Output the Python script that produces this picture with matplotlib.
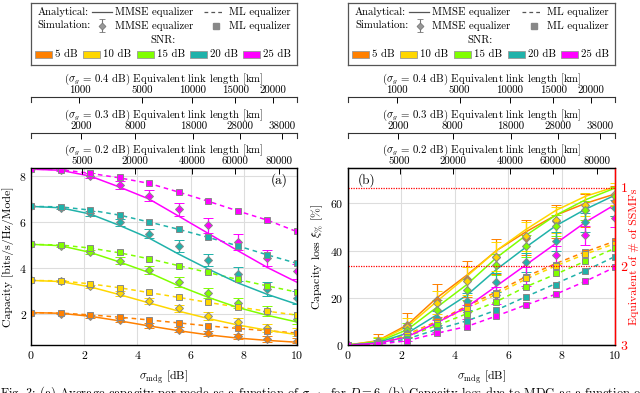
import matplotlib.pyplot as plt
import numpy as np

plt.rcParams['font.family'] = 'serif'
plt.rcParams['font.serif'] = ['cmr10']
plt.rcParams['mathtext.fontset'] = 'cm'
plt.rcParams['axes.formatter.use_mathtext'] = True
plt.rcParams['font.size'] = 7.8
plt.rcParams['axes.unicode_minus'] = False

# sigma_mdg sample points [dB]
sigma = [0, 1.11, 2.22, 3.33, 4.44, 5.56, 6.67, 7.78, 8.89, 10]
snr_labels = ['5 dB', '10 dB', '15 dB', '20 dB', '25 dB']
colors = ['#ff8000', '#ffd700', '#80ff00', '#20b2aa', '#ff00ff']

# ---- panel (a): capacity [bits/s/Hz/Mode] ----
cap_mmse = [
    [2.06, 2.03, 1.90, 1.70, 1.48, 1.27, 1.09, 0.95, 0.85, 0.77],
    [3.46, 3.41, 3.18, 2.84, 2.48, 2.12, 1.80, 1.52, 1.29, 1.10],
    [5.03, 4.97, 4.68, 4.26, 3.80, 3.22, 2.72, 2.28, 1.94, 1.65],
    [6.68, 6.62, 6.35, 5.85, 5.30, 4.60, 3.95, 3.35, 2.85, 2.42],
    [8.30, 8.25, 8.00, 7.52, 7.00, 6.25, 5.50, 4.75, 4.02, 3.38],
]
cap_ml = [
    [2.06, 2.04, 1.96, 1.86, 1.74, 1.61, 1.48, 1.37, 1.27, 1.17],
    [3.46, 3.44, 3.31, 3.14, 2.93, 2.72, 2.50, 2.30, 2.12, 1.95],
    [5.03, 5.00, 4.87, 4.66, 4.40, 4.10, 3.80, 3.50, 3.22, 2.95],
    [6.68, 6.66, 6.52, 6.30, 6.00, 5.68, 5.33, 4.96, 4.57, 4.20],
    [8.30, 8.28, 8.12, 7.92, 7.68, 7.30, 6.90, 6.48, 6.08, 5.58],
]
sim_mmse = [
    [2.06, 2.02, 1.90, 1.72, 1.50, 1.32, 1.16, 1.02, 0.92, 0.83],
    [3.46, 3.42, 3.20, 2.90, 2.57, 2.24, 1.92, 1.65, 1.40, 1.22],
    [5.03, 4.97, 4.70, 4.32, 3.92, 3.38, 2.92, 2.48, 2.12, 1.80],
    [6.68, 6.62, 6.38, 5.98, 5.50, 4.95, 4.35, 3.75, 3.10, 2.70],
    [8.30, 8.25, 8.02, 7.62, 7.15, 6.55, 5.85, 5.13, 4.45, 3.85],
]
err_mmse = [
    [0, 0.04, 0.07, 0.09, 0.11, 0.12, 0.12, 0.12, 0.12, 0.11],
    [0, 0.05, 0.08, 0.12, 0.14, 0.16, 0.17, 0.17, 0.17, 0.16],
    [0, 0.05, 0.10, 0.14, 0.18, 0.21, 0.23, 0.23, 0.23, 0.22],
    [0, 0.05, 0.11, 0.16, 0.21, 0.25, 0.28, 0.30, 0.30, 0.28],
    [0, 0.05, 0.11, 0.17, 0.23, 0.28, 0.32, 0.34, 0.35, 0.34],
]
sim_ml = [
    [2.06, 2.04, 1.97, 1.86, 1.75, 1.62, 1.48, 1.40, 1.28, 1.18],
    [3.46, 3.44, 3.31, 3.15, 2.96, 2.74, 2.52, 2.30, 2.12, 1.94],
    [5.03, 5.00, 4.87, 4.69, 4.40, 4.10, 3.82, 3.50, 3.22, 2.95],
    [6.68, 6.66, 6.52, 6.30, 6.00, 5.68, 5.33, 4.96, 4.55, 4.20],
    [8.30, 8.28, 8.12, 7.96, 7.68, 7.32, 6.90, 6.48, 6.08, 5.60],
]

# ---- panel (b): capacity loss [%] ----
loss_mmse = [
    [0, 1.8, 8.5, 20.0, 29.5, 40.0, 48.0, 55.0, 60.0, 64.0],
    [0, 1.6, 7.8, 18.5, 29.0, 40.0, 49.0, 57.0, 63.0, 67.0],
    [0, 1.3, 6.5, 16.0, 25.5, 37.0, 46.5, 55.0, 61.5, 66.5],
    [0, 1.0, 5.0, 12.8, 21.0, 32.0, 41.5, 50.5, 57.5, 63.5],
    [0, 0.7, 3.5, 9.5, 16.0, 25.0, 34.0, 43.0, 52.0, 59.5],
]
loss_ml = [
    [0, 0.8, 4.5, 10.0, 16.5, 22.5, 29.0, 34.5, 39.5, 44.0],
    [0, 0.8, 4.3, 9.5, 15.5, 21.5, 28.0, 33.5, 38.5, 43.0],
    [0, 0.6, 3.6, 8.3, 13.2, 18.4, 24.7, 30.0, 35.5, 41.0],
    [0, 0.4, 2.6, 6.6, 10.2, 14.8, 20.5, 26.0, 31.5, 37.5],
    [0, 0.3, 1.8, 5.0, 7.8, 12.3, 17.0, 21.5, 27.0, 33.0],
]
loss_sim = [
    [0, 1.8, 8.5, 19.0, 28.0, 37.5, 45.5, 52.5, 57.0, 61.0],
    [0, 1.6, 7.5, 18.0, 27.0, 37.5, 46.0, 53.0, 59.5, 64.0],
    [0, 1.3, 6.3, 15.0, 23.5, 34.0, 42.0, 50.5, 57.0, 63.0],
    [0, 1.0, 5.0, 11.5, 18.5, 26.5, 35.0, 44.0, 52.0, 58.0],
    [0, 0.6, 3.3, 8.2, 14.0, 21.0, 29.0, 38.0, 46.5, 54.0],
]
loss_err = [
    [0, 3.0, 5.0, 7.0, 7.5, 7.5, 7.5, 7.0, 7.0, 6.5],
    [0, 2.0, 4.0, 5.0, 6.0, 6.0, 6.0, 5.5, 5.0, 4.5],
    [0, 1.5, 3.0, 4.0, 4.5, 4.5, 4.5, 4.5, 4.0, 4.0],
    [0, 1.0, 2.0, 3.0, 3.5, 4.0, 4.0, 4.0, 4.0, 3.5],
    [0, 0.8, 1.5, 2.5, 3.0, 3.5, 4.0, 4.0, 4.0, 4.0],
]
loss_sim_ml = [
    [0, 0.9, 4.6, 10.2, 16.5, 22.0, 29.0, 34.0, 39.5, 44.0],
    [0, 0.8, 4.2, 9.4, 15.3, 21.6, 28.2, 33.5, 38.5, 43.0],
    [0, 0.6, 3.5, 8.4, 13.3, 18.3, 24.5, 30.5, 35.5, 41.0],
    [0, 0.4, 2.6, 6.5, 10.0, 14.8, 20.5, 25.5, 31.5, 37.5],
    [0, 0.3, 1.8, 5.0, 7.8, 12.3, 17.0, 21.8, 27.0, 33.0],
]

# equivalent link length axes (tick position in sigma_mdg, label in km)
ticks_04 = [1.82, 4.18, 6.06, 7.68, 9.11]
labels_04 = ['1000', '5000', '10000', '15000', '20000']
ticks_03 = [1.89, 3.92, 6.10, 7.87, 9.45]
labels_03 = ['2000', '8000', '18000', '28000', '38000']
ticks_02 = [1.93, 3.92, 6.06, 7.68, 9.32]
labels_02 = ['5000', '20000', '40000', '60000', '80000']
ssmf_ticks = [0, 100 / 3, 200 / 3]
ssmf_labels = ['3', '2', '1']

W, H = 640, 393
fig = plt.figure(figsize=(6.4, 3.93), dpi=100)


def px(x0, y0, x1, y1):
    return [x0 / W, 1 - y1 / H, (x1 - x0) / W, (y1 - y0) / H]


def link_axis(x0, x1, ytop, ticks, labels, sg):
    a = fig.add_axes(px(x0, ytop, x1, ytop + 5))
    a.patch.set_visible(False)
    a.spines['bottom'].set_visible(False)
    for s in ['top', 'left', 'right']:
        a.spines[s].set_linewidth(0.8)
        a.spines[s].set_color('#333333')
    a.set_xlim(0, 10)
    a.set_yticks([])
    a.xaxis.tick_top()
    a.xaxis.set_label_position('top')
    a.set_xticks(ticks)
    a.set_xticklabels(labels)
    a.tick_params(axis='x', direction='in', length=4, pad=1.2, width=0.7)
    a.set_xlabel(r'($\sigma_g\,=\,%s$ dB) Equivalent link length [km]' % sg, labelpad=2.8)
    return a


def legend_box(x0, x1):
    a = fig.add_axes(px(x0, 3, x1, 65))
    a.set_xlim(0, 1)
    a.set_ylim(0, 1)
    a.set_xticks([])
    a.set_yticks([])
    for s in a.spines.values():
        s.set_linewidth(0.9)
        s.set_color('#555555')
    y1, y2, y3, y4 = 0.86, 0.635, 0.40, 0.17
    a.text(0.218, y1, 'Analytical:', ha='right', va='center')
    a.plot([0.229, 0.305], [y1, y1], color='#555555', lw=0.9)
    a.text(0.316, y1, 'MMSE equalizer', ha='left', va='center')
    a.plot([0.652, 0.722], [y1, y1], color='#555555', lw=0.9, ls=(0, (3, 2.5)))
    a.text(0.744, y1, 'ML equalizer', ha='left', va='center')
    a.text(0.226, y2, 'Simulation:', ha='right', va='center')
    a.errorbar([0.268], [y2], yerr=[0.1], fmt='D', ms=3.5, mfc='#999999', mec='#777777',
               ecolor='#777777', capsize=2.5, elinewidth=0.8, mew=0.6)
    a.text(0.316, y2, 'MMSE equalizer', ha='left', va='center')
    a.plot([0.695], [y2], 's', ms=3.8, mfc='#888888', mec='#888888')
    a.text(0.744, y2, 'ML equalizer', ha='left', va='center')
    a.text(0.496, y3, 'SNR:', ha='center', va='center')
    starts = [0.015, 0.196, 0.398, 0.598, 0.797]
    for st, c, lab in zip(starts, colors, snr_labels):
        a.add_patch(plt.Rectangle((st, y4 - 0.05), 0.064, 0.1, facecolor=c,
                                  edgecolor='#999999', lw=0.6))
        a.text(st + 0.075, y4, lab, ha='left', va='center')


def style_main(ax):
    ax.set_xlim(0, 10)
    ax.set_xticks([0, 2, 4, 6, 8, 10])
    ax.grid(True, color='#dddddd', lw=0.8)
    ax.set_axisbelow(True)
    ax.tick_params(direction='in', length=0, pad=3, labelsize=8.5)
    for s in ax.spines.values():
        s.set_linewidth(1.0)
        s.set_color('#444444')
    ax.set_xlabel(r'$\sigma_{\rm mdg}$ [dB]', labelpad=5, fontsize=8.5)
    top = ax.twiny()
    top.set_xlim(0, 10)
    top.set_xticks(ticks_02)
    top.set_xticklabels(labels_02)
    top.tick_params(axis='x', direction='in', length=4, pad=1.2, width=0.7)
    top.set_xlabel(r'($\sigma_g\,=\,0.2$ dB) Equivalent link length [km]', labelpad=2.8)
    return top


def draw_series(ax, ana, ana_ml, sim, err, sim_ml):
    for i in range(5):
        c = colors[i]
        ax.plot(sigma, ana[i], color=c, lw=1.1, zorder=2)
        ax.plot(sigma, ana_ml[i], color=c, lw=1.1, ls=(0, (3, 2.5)), zorder=2)
        ax.errorbar(sigma, sim[i], yerr=err[i], fmt='D', ms=4, mfc=c, mec='#888888',
                    mew=0.7, ecolor=c, elinewidth=0.9, capsize=3.5, capthick=0.9, zorder=3)
        ax.plot(sigma, sim_ml[i], 's', ms=4.5, mfc=c, mec='#888888', mew=0.7, zorder=4)


# ---------------- (a) capacity ----------------
axa = fig.add_axes(px(31, 168, 297, 345))
draw_series(axa, cap_mmse, cap_ml, sim_mmse, err_mmse, sim_ml)
axa.set_ylim(0.65, 8.35)
axa.set_yticks([2, 4, 6, 8])
axa.set_ylabel('Capacity [bits/s/Hz/Mode]', labelpad=4, fontsize=8.5)
style_main(axa)
axa.text(0.965, 0.93, '(a)', transform=axa.transAxes, ha='right', va='center', fontsize=9.5)
link_axis(31, 297, 133, ticks_03, labels_03, '0.3')
link_axis(31, 297, 97, ticks_04, labels_04, '0.4')
legend_box(31, 297)

# ---------------- (b) capacity loss ----------------
axb = fig.add_axes(px(348, 168, 615, 345))
draw_series(axb, loss_mmse, loss_ml, loss_sim, loss_err, loss_sim_ml)
axb.set_ylim(0, 75)
axb.set_yticks([0, 20, 40, 60])
axb.set_ylabel(r'Capacity loss $\xi_{\%}$ [%]', labelpad=4, fontsize=8.5)
for lvl in ssmf_ticks[1:]:
    axb.axhline(lvl, color='red', lw=0.9, ls=(0, (1, 1)), zorder=5)
style_main(axb)
axb.spines['right'].set_color('red')
axb.text(0.035, 0.93, '(b)', transform=axb.transAxes, ha='left', va='center', fontsize=9.5)
rb = axb.twinx()
rb.set_ylim(0, 75)
rb.set_yticks(ssmf_ticks)
rb.set_yticklabels(ssmf_labels)
rb.tick_params(axis='y', colors='red', direction='in', length=0, pad=4, labelsize=10)
rb.spines['right'].set_color('red')
rb.set_ylabel('Equivalent of # of SSMFs', color='red', labelpad=1, fontsize=8.5)
link_axis(348, 615, 133, ticks_03, labels_03, '0.3')
link_axis(348, 615, 97, ticks_04, labels_04, '0.4')
legend_box(348, 615)

fig.text(0.0, 1 - 385 / H,
         r'Fig. 3: (a) Average capacity per mode as a function of $\sigma_{\rm mdg}$ for $D=6$. '
         r'(b) Capacity loss due to MDG as a function of', ha='left', va='top', fontsize=9)

fig.savefig('out.png', dpi=100)
